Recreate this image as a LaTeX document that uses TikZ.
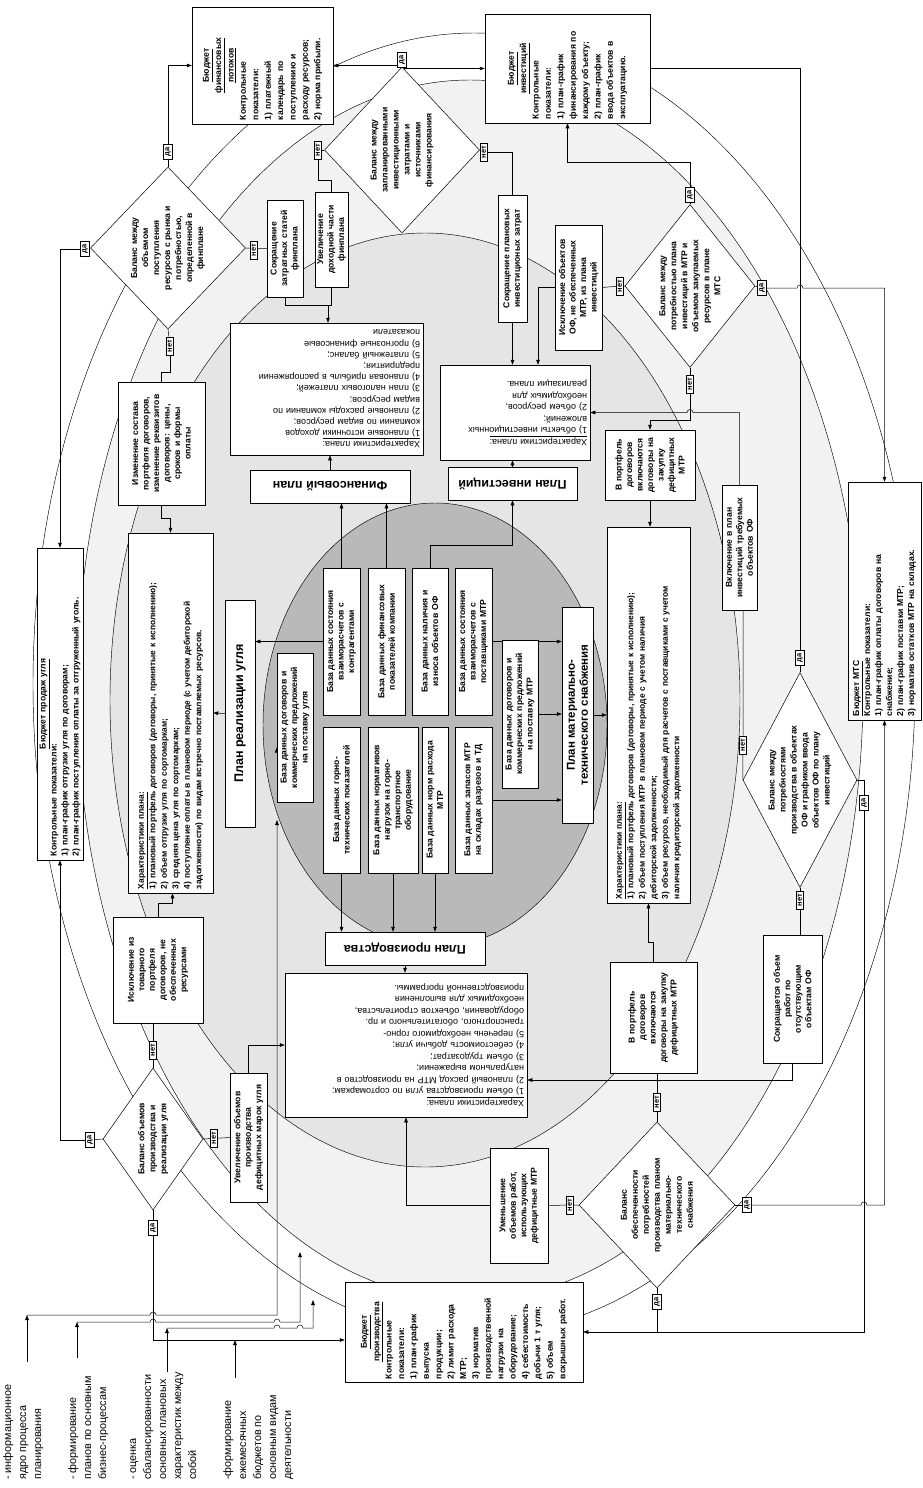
\documentclass[tikz,border=0pt]{standalone}
\usepackage{fontspec}
\setmainfont{Liberation Sans}
\usetikzlibrary{arrows.meta,shapes.geometric,calc}
\pgfdeclarelayer{ell}
\pgfdeclarelayer{con}
\pgfsetlayers{ell,con,main}
\newcommand\ftxt{\bfseries\fontsize{8.6}{10.5}\selectfont}
\newcommand\fbud{\bfseries\fontsize{8.6}{12.4}\selectfont}
\newcommand\fbudS{\bfseries\fontsize{8.6}{11}\selectfont}
\newcommand\fchar{\fontsize{9}{11.5}\selectfont}
\newcommand\fcharB{\bfseries\fontsize{8.4}{11.5}\selectfont}
\newcommand\fcharS{\fontsize{9}{11.2}\selectfont}
\newcommand\fttl{\bfseries\fontsize{12.5}{14}\selectfont}
\newcommand\fttlS{\bfseries\fontsize{11.5}{13}\selectfont}
\newcommand\fdia{\bfseries\fontsize{8.6}{11}\selectfont}
\newcommand\flab{\bfseries\fontsize{7.5}{8}\selectfont}
\newcommand\fleg{\fontsize{10.8}{15}\selectfont}
\newcommand\ctr[1]{\makebox[\linewidth]{\underline{#1}}}
\begin{document}
\begin{tikzpicture}[x=1pt,y=-1pt,
  bx/.style={draw, fill=white, line width=0.5pt, inner sep=2pt},
  rv/.style={bx, rotate=90},
  ru/.style={bx, rotate=180},
  sb/.style={rv, align=center, font=\ftxt, inner sep=1pt},
  dia/.style={draw, fill=white, diamond, inner sep=0pt, line width=0.5pt},
  dtx/.style={rotate=90, align=center, font=\fdia, inner sep=0pt},
  lab/.style={draw, fill=white, rotate=90, font=\flab, inner xsep=3pt, inner ysep=1.5pt, line width=0.5pt},
  arr/.style={line width=0.5pt, -{Triangle[length=5pt,width=3.6pt]}},
  ln/.style={line width=0.5pt},
  leg/.style={rotate=90, anchor=north west, align=left, font=\fleg, inner sep=0pt}]
\useasboundingbox (0,0) rectangle (923,1488);

% ---------- ellipses ----------
\begin{pgfonlayer}{ell}
\fill[white] (0,0) rectangle (923,1488);
\draw[line width=0.45pt, fill=white] (474,684) ellipse [x radius=441pt, y radius=651pt];
\draw[line width=0.45pt, fill=gray!10] (470,690) ellipse [x radius=393pt, y radius=610pt];
\draw[line width=0.45pt, fill=gray!20] (425,700) ellipse [x radius=315pt, y radius=467pt];
\draw[line width=0.45pt, fill=gray!55] (435,725) ellipse [x radius=172pt, y radius=222pt];
\end{pgfonlayer}

% ---------- budgets ----------
\node[rv, minimum width=117pt, minimum height=141pt, text width=109pt, align=left, font=\fbud] (finbud) at (262.5,65.5)
 {\ctr{Бюджет}\\ \ctr{финансовых}\\ \ctr{потоков}\\ Контрольные\\ показатели:\\ 1) платежный\\ календарь по\\ поступлению и\\ расходу ресурсов;\\ 2) норма прибыли.};
\node[rv, minimum width=109pt, minimum height=165pt, text width=101pt, align=left, font=\fbud] (invbud) at (567.5,68.5)
 {\ctr{Бюджет}\\ \ctr{инвестиций}\\ Контрольные\\ показатели:\\ 1) план-график\\ финансирования по\\ каждому объекту;\\ 2) план-график\\ ввода объектов в\\ эксплуатацию.};
\node[rv, minimum width=312pt, minimum height=46pt, text width=304pt, align=left, font=\fbudS, inner sep=1pt] (salesbud) at (60,704)
 {\ctr{Бюджет  продаж угля}\\ Контрольные показатели:\\ 1) план-график отгрузки угля по договорам;\\ 2) план-график  поступления оплаты за отгруженный уголь.};
\node[rv, minimum width=100pt, minimum height=238pt, text width=94pt, align=left, font=\fbud] (prodbud) at (464,1332)
 {\ctr{Бюджет}\\ \ctr{производства}\\ Контрольные\\ показатели:\\ 1) план-график\\ выпуска\\ продукции;\\ 2) лимит расхода\\ МТР;\\ 3) норматив\\ производственной\\ нагрузки на\\ оборудование;\\ 4) себестоимость\\ добычи 1 т угля;\\ 5) объем\\ вскрышных работ.};
\node[rv, minimum width=238pt, minimum height=73pt, text width=230pt, align=left, font=\fbudS] (mtsbud) at (884.5,601)
 {\underline{Бюджет МТС}\\ Контрольные показатели:\\ 1) план-график оплаты договоров на\\ снабжение;\\ 2) план-график поставки МТР;\\ 3) норматив остатков МТР на складах.};

% ---------- plan characteristics ----------
\node[rv, minimum width=360pt, minimum height=85pt, text width=352pt, align=left, font=\fcharB] (saleschar) at (170.5,713)
 {\underline{Характеристики плана:}\\ 1) плановый портфель договоров (договоры, принятые к исполнению);\\ 2) объем отгрузки угля по сортомаркам;\\ 3) средняя цена угля по сортомаркам;\\ 4) поступление оплаты в плановом периоде (с учетом дебиторской\\ задолженности) по видам встречно поставляемых ресурсов.};
\node[rv, minimum width=376pt, minimum height=83pt, text width=368pt, align=left, font=\fcharB] (mtschar) at (648.5,715)
 {\underline{Характеристики плана:}\\ 1) плановый портфель договоров (договоры, принятые к исполнению);\\ 2) объем поступления МТР в плановом периоде с учетом наличия\\ дебиторской задолженности;\\ 3) объем ресурсов, необходимый для расчетов с поставщиками с учетом\\ наличия кредиторской задолженности};
\node[ru, minimum width=193pt, minimum height=132pt, text width=187pt, align=left, font=\fcharS] (finchar) at (326.5,389)
 {\underline{Характеристики плана:}\\ 1) плановые источники доходов\\ компании по видам ресурсов;\\ 2) плановые расходы компании по\\ видам ресурсов;\\ 3) план налоговых платежей;\\ 4) плановая  прибыль в распоряжении\\ предприятия;\\ 5) платежный баланс;\\ 6) прогнозные финансовые\\ показатели};
\node[ru, minimum width=150pt, minimum height=95pt, text width=144pt, align=left, font=\fchar] (invchar) at (515,412.5)
 {\underline{Характеристики плана:}\\ 1) объекты инвестиционных\\ вложений;\\ 2) объем ресурсов,\\ необходимых для\\ реализации плана.};
\node[ru, minimum width=242pt, minimum height=144pt, text width=236pt, align=left, font=\fchar] (prodchar) at (406,1045)
 {\underline{Характеристики плана:}\\ 1) объем производства угля по сортомаркам;\\ 2) плановый расход МТР на производство в\\ натуральном выражении;\\ 3) объем трудозатрат;\\ 4) себестоимость добычи угля;\\ 5) перечень необходимого горно-\\ транспортного, обогатительного и пр.\\ оборудования, объектов строительства,\\ необходимых для выполнения\\ производственной программы.};

% ---------- plan titles ----------
\node[rv, minimum width=227pt, minimum height=30pt, font=\fttl] (salesplan) at (240,713.5) {План реализации угля};
\node[rv, minimum width=216pt, minimum height=31pt, font=\fttlS, align=center, inner sep=1pt] (mtsplan) at (577.5,715) {План материально-\\технического снабжения};
\node[ru, minimum width=160pt, minimum height=33pt, font=\fttl] (finplan) at (330,486.5) {Финансовый план};
\node[ru, minimum width=129pt, minimum height=33pt, font=\fttl] (invplan) at (512.5,483.5) {План инвестиций};
\node[ru, minimum width=160pt, minimum height=33pt, font=\fttl] (prodplan) at (405,948.5) {План производства};

% ---------- small boxes ----------
\node[sb, minimum width=123pt, minimum height=87pt, text width=119pt] (changebox) at (161.5,443.5) {Изменение состава\\ портфеля договоров,\\ изменение реквизитов\\ договоров: цены,\\ сроков и формы\\ оплаты};
\node[sb, minimum width=106pt, minimum height=90pt, text width=102pt] (exclbox) at (158,970) {Исключение из\\ товарного\\ портфеля\\ договоров, не\\ обеспеченных\\ ресурсами};
\node[sb, minimum width=97pt, minimum height=36pt, text width=93pt] (cutcost) at (285,248.5) {Сокращение\\ затратных статей\\ финплана};
\node[sb, minimum width=95pt, minimum height=33pt, text width=91pt] (incincome) at (331.5,239.5) {Увеличение\\ доходной части\\ финплана};
\node[sb, minimum width=127pt, minimum height=29pt, text width=123pt] (cutinv) at (512.5,258.5) {Сокращение плановых\\ инвестиционых затрат};
\node[sb, minimum width=125pt, minimum height=47pt, text width=121pt] (exclobj) at (578.5,287.5) {Исключение объектов\\ ОФ, не обеспеченных\\ МТР, из плана\\ инвестиций};
\node[sb, minimum width=70pt, minimum height=90pt, text width=66pt] (mtrbox1) at (650,465) {В портфель\\ договоров\\ включаются\\ договоры на\\ закупку\\ дефицитных\\ МТР};
\node[sb, minimum width=111pt, minimum height=87pt, text width=107pt] (mtrbox2) at (653.5,1017.5) {В портфель\\ договоров\\ включаются\\ договоры на закупку\\ дефицитных МТР};
\node[sb, minimum width=125pt, minimum height=35pt, text width=121pt] (vkl) at (739.5,547.5) {Включение в план\\ инвестиций требуемых\\ объектов ОФ};
\node[sb, minimum width=128pt, minimum height=59pt, text width=124pt] (shrink) at (792.5,999) {Сокращается объем\\ работ по\\ отсутствующим\\ объектам ОФ};
\node[sb, minimum width=115pt, minimum height=58pt, text width=111pt] (umen) at (519,1205.5) {Уменьшение\\ объемов работ,\\ использующих\\ дефицитные МТР};
\node[sb, minimum width=129pt, minimum height=37pt, text width=125pt] (uvel) at (248.5,1137.5) {Увеличение объемов\\ производства\\ дефицитных  марок угля};

% ---------- databases ----------
\node[sb, minimum width=147pt, minimum height=37pt, text width=143pt] (db1) at (341.5,641.5) {База данных состояния\\ взаиморасчетов с\\ контрагентами};
\node[sb, minimum width=147pt, minimum height=37pt, text width=143pt] (db2) at (386.5,641.5) {База данных финансовых\\ показателей компании};
\node[sb, minimum width=147pt, minimum height=36pt, text width=143pt] (db3) at (430,641.5) {База данных наличия и\\ износа объектов ОФ};
\node[sb, minimum width=147pt, minimum height=37pt, text width=143pt] (db4) at (473.5,641.5) {База данных состояния\\ взаиморасчетов с\\ поставщиками МТР};
\node[sb, minimum width=146pt, minimum height=37pt, text width=142pt] (db5) at (341.5,800) {База данных горно-\\ технических показателей};
\node[sb, minimum width=146pt, minimum height=50pt, text width=142pt] (db6) at (393,800) {База данных нормативов\\ нагрузок на горно-\\ транспортное\\ оборудование};
\node[sb, minimum width=146pt, minimum height=26pt, text width=142pt] (db7) at (435,800) {База данных норм расхода\\ МТР};
\node[sb, minimum width=146pt, minimum height=37pt, text width=142pt] (db8) at (473.5,800) {База данных запасов МТР\\ на складах разрезов и ТД};
\node[sb, minimum width=148pt, minimum height=36pt, text width=144pt] (db9) at (520,714) {База данных договоров и\\ коммерческих предложений\\ на поставку МТР};
\node[sb, minimum width=149pt, minimum height=36pt, text width=145pt] (db10) at (295,727.5) {База данных договоров и\\ коммерческих предложений\\ на поставку угля};

% ---------- diamonds ----------
\node[dia, minimum width=155pt, minimum height=162pt] (d1) at (168,248) {};
\node[dtx] (d1x) at (d1) {Баланс между\\ объемом\\ поступления\\ ресурсов с рынка и\\ потребностью,\\ определенной в\\ финплане};
\node[dia, minimum width=100pt, minimum height=142pt] (d2) at (153,1139) {};
\node[dtx] (d2x) at (d2) {Баланс объемов\\ производства и\\ реализации угля};
\node[dia, minimum width=155pt, minimum height=166pt] (d3) at (402,150) {};
\node[dtx] (d3x) at (d3) {Баланс между\\ запланированными\\ инвестиционными\\ затратами и\\ источниками\\ финансирования};
\node[dia, minimum width=130pt, minimum height=163pt] (d4) at (690,286) {};
\node[dtx] (d4x) at (d4) {Баланс между\\ потребностью плана\\ инвестиций в МТР и\\ объемом закупаемых\\ ресурсов в плане\\ МТС};
\node[dia, minimum width=114pt, minimum height=215pt] (d5) at (800,780) {};
\node[dtx] (d5x) at (d5) {Баланс между\\ потребностями\\ производства  в объектах\\ ОФ и графиком ввода\\ объектов ОФ по плану\\ инвестиций};
\node[dia, minimum width=156pt, minimum height=166pt] (d6) at (657,1205) {};
\node[dtx] (d6x) at (d6) {Баланс\\ обеспеченности\\ потребностей\\ производства планом\\ материально-\\ технического\\ снабжения};

% ---------- yes/no labels ----------
\node[lab] (d1t) at (168,152) {да};
\node[lab] (d1l) at (85,249) {да};
\node[lab] (d1r) at (254,250) {нет};
\node[lab] (d1b) at (170,346) {нет};
\node[lab] (d2l) at (90,1140) {да};
\node[lab] (d2t) at (153,1050) {нет};
\node[lab] (d2r) at (214,1138) {нет};
\node[lab] (d2b) at (153,1228) {да};
\node[lab] (d3t) at (402,60) {да};
\node[lab] (d3l) at (318,150) {нет};
\node[lab] (d3r) at (484,152) {нет};
\node[lab] (d4t) at (690,195) {да};
\node[lab] (d4l) at (620,286) {нет};
\node[lab] (d4r) at (762,288) {да};
\node[lab] (d4b) at (690,384) {нет};
\node[lab] (d5t) at (800,658) {да};
\node[lab] (d5l) at (743,745) {нет};
\node[lab] (d5r) at (864,803) {да};
\node[lab] (d5b) at (800,900) {нет};
\node[lab] (d6t) at (657,1102) {нет};
\node[lab] (d6l) at (570,1205) {нет};
\node[lab] (d6r) at (747,1205) {да};
\node[lab] (d6b) at (657,1302) {да};

% ---------- legend ----------
\node[leg] (lg1) at (3,1480) {- информационное\\ ядро процесса\\ планирования};
\node[leg] (lg2) at (68,1480) {- формирование\\ планов по основным\\ бизнес-процессам};
\node[leg] (lg3) at (130,1480) {- оценка\\ сбалансированности\\ основных плановых\\ характеристик между\\ собой};
\node[leg] (lg4) at (223,1480) {-формирование\\ ежемесячных\\ бюджетов по\\ основным видам\\ деятельности};

% ---------- connectors ----------
\begin{pgfonlayer}{con}
% D1
\draw[ln] (d1.north) -- (d1t);
\draw[arr] (d1t) |- (finbud.north);
\draw[ln] (d1.west) -- (d1l);
\draw[arr] (d1l) -| (salesbud.east);
\draw[ln] (d1.east) -- (cutcost.north);
\draw[ln] (d1.south) -- (d1b);
\draw[ln] (d1b) -- ($(d1b)+(0,26)$) -| (changebox.east);
\draw[arr] (changebox.west) |- ($(saleschar.east)+(0,-15)$) -- (saleschar.east);
% D2
\draw[ln] (d2.north) -- (d2.north |- exclbox.west);
\draw[arr] (exclbox.east) |- ($(saleschar.west)+(2,10)$) -- ($(saleschar.west)+(2,0)$);
\draw[ln] (d2.west) -- (d2l);
\draw[arr] (d2l) -| (salesbud.west);
\draw[ln] (d2.east) -- (uvel.north);
\draw[arr] (uvel.east) |- (prodchar.east);
\draw[ln] (d2.south) -- (d2b);
\draw[arr] (d2b) |- ($(prodbud.north)+(0,8)$);
% D3
\draw[ln] (d3.north) -- (d3t);
\draw[arr] (d3t) |- (finbud.south);
\draw[arr] (d3t) |- (invbud.north);
\draw[ln] (d3.west) -- (d3l);
\draw[ln] (d3l) |- ($(incincome.east)+(0,-12)$) -- (incincome.east);
\draw[ln] (d3.east) -- (d3r);
\draw[ln] (d3r) -| (cutinv.east);
\draw[arr] (cutinv.west) -- (cutinv.west |- invchar.south);
\coordinate (fj) at (328,305);
\draw[ln] (cutcost.west) |- (fj);
\draw[ln] (incincome.west) |- (fj);
\draw[arr] (fj) -- (fj |- finchar.south);
% D4
\draw[ln] (d4.north) -- (d4t);
\draw[arr] (d4t) |- ($(invbud.west)+(0,39)$) -- (invbud.west);
\draw[ln] (d4.west) -- (d4l) -- (exclobj.south);
\draw[arr] (exclobj.north) -| ($(invchar.south)+(23,0)$);
\draw[ln] (d4.east) -- (d4r);
\draw[arr] (d4r) -- (797,288) arc[start angle=180, end angle=0, radius=3pt] -- (mtsbud.east |- d4r) -- (mtsbud.east);
\draw[ln] (d4.south) -- (d4b);
\draw[arr] (d4b) |- ($(mtrbox1.east)+(0,-10)$) -- (mtrbox1.east);
\draw[arr] (mtrbox1.west) -- (mtrbox1.west |- mtschar.east);
% D5
\draw[ln] (d5.north) -- (d5t);
\draw[ln] (d5t) |- (invbud.south);
\draw[ln] (d5.west) -- (d5l) -- (d5l |- vkl.west);
\draw[arr] (vkl.east) -- (vkl.east |- invchar.west) -- (693,412.5) arc[start angle=0, end angle=180, radius=3pt] -- (invchar.west);
\draw[ln] (d5.east) -| (d5r);
\coordinate (j1) at (657,1332);
\draw[ln] (d5r) |- (j1);
\draw[ln] (d5.south) -- (d5b) -- (d5b |- shrink.east);
\draw[arr] (shrink.west) |- ($(prodchar.west)+(0,35)$);
% D6
\draw[ln] (d6.north) -- (d6t) -- (d6t |- mtrbox2.west);
\draw[arr] (mtrbox2.east) -- ++(0,-20) -| (mtschar.west);
\draw[ln] (d6.west) -- (d6l) -- (umen.south);
\draw[arr] (umen.north) -| (prodchar.north);
\draw[ln] (d6.east) -- (d6r);
\draw[arr] (d6r) -- (861,1205) arc[start angle=180, end angle=0, radius=3pt] -- (mtsbud.west |- d6r) -- (mtsbud.west);
\draw[ln] (d6.south) -- (d6b);
\draw[arr] (d6b) |- (prodbud.south);
% plans
\draw[arr] (finplan.south) -- (finplan.south |- finchar.north);
\draw[arr] (invplan.south) -- (invplan.south |- invchar.north);
\draw[arr] (prodplan.north) -- (prodplan.north |- prodchar.south);
\draw[arr] (salesplan.north) -- (saleschar.south);
\draw[arr] (mtsplan.south) -- (mtschar.north);
% core to plans
\draw[arr] (db1.east) -- (db1.east |- finplan.north);
\draw[arr] (db2.east) -- (db2.east |- finplan.north);
\draw[arr] (db3.east) -- ++(0,-23) -| (invplan.north);
\draw[arr] (db1.north) -- (db1.north -| salesplan.south);
\draw[arr] ($(db10.north)+(0,20)$) -- ($(db10.north)+(0,20)$ -| salesplan.south);
\draw[arr] (db4.south) -- (db4.south -| mtsplan.north);
\draw[arr] (db8.south) -- (db8.south -| mtsplan.north);
\draw[arr] (db9.south) -- (db9.south -| mtsplan.north);
\draw[arr] (db5.west) -- (db5.west |- prodplan.south);
\draw[arr] (db6.west) -- (db6.west |- prodplan.south);
\draw[arr] (db7.west) -- (db7.west |- prodplan.south);
% legend arrows
\coordinate (a1) at (27,1315);
\coordinate (a2) at (77,1322);
\coordinate (a3) at (167,1328);
\coordinate (a4) at (235,1340);
\draw[arr] (27,1362) -- (a1);
\draw[arr] (77,1358) -- (a2);
\draw[arr] (167,1372) -- (a3);
\draw[arr] (235,1378) -- (a4);
\draw[arr] (a1) -- (150,1315) arc[start angle=180, end angle=0, radius=3pt] -- (277,1315) -- (277,820);
\draw[arr] (a2) -- (150,1322) arc[start angle=180, end angle=0, radius=3pt] -- (274,1322) arc[start angle=180, end angle=0, radius=3pt] -- (300,1322) -- (300,1252);
\draw[arr] (a3) -- (274,1328) arc[start angle=180, end angle=0, radius=3pt] -- (297,1328) arc[start angle=180, end angle=0, radius=3pt] -- (313,1328) -- (313,1300);
\end{pgfonlayer}
\end{tikzpicture}
\end{document}
